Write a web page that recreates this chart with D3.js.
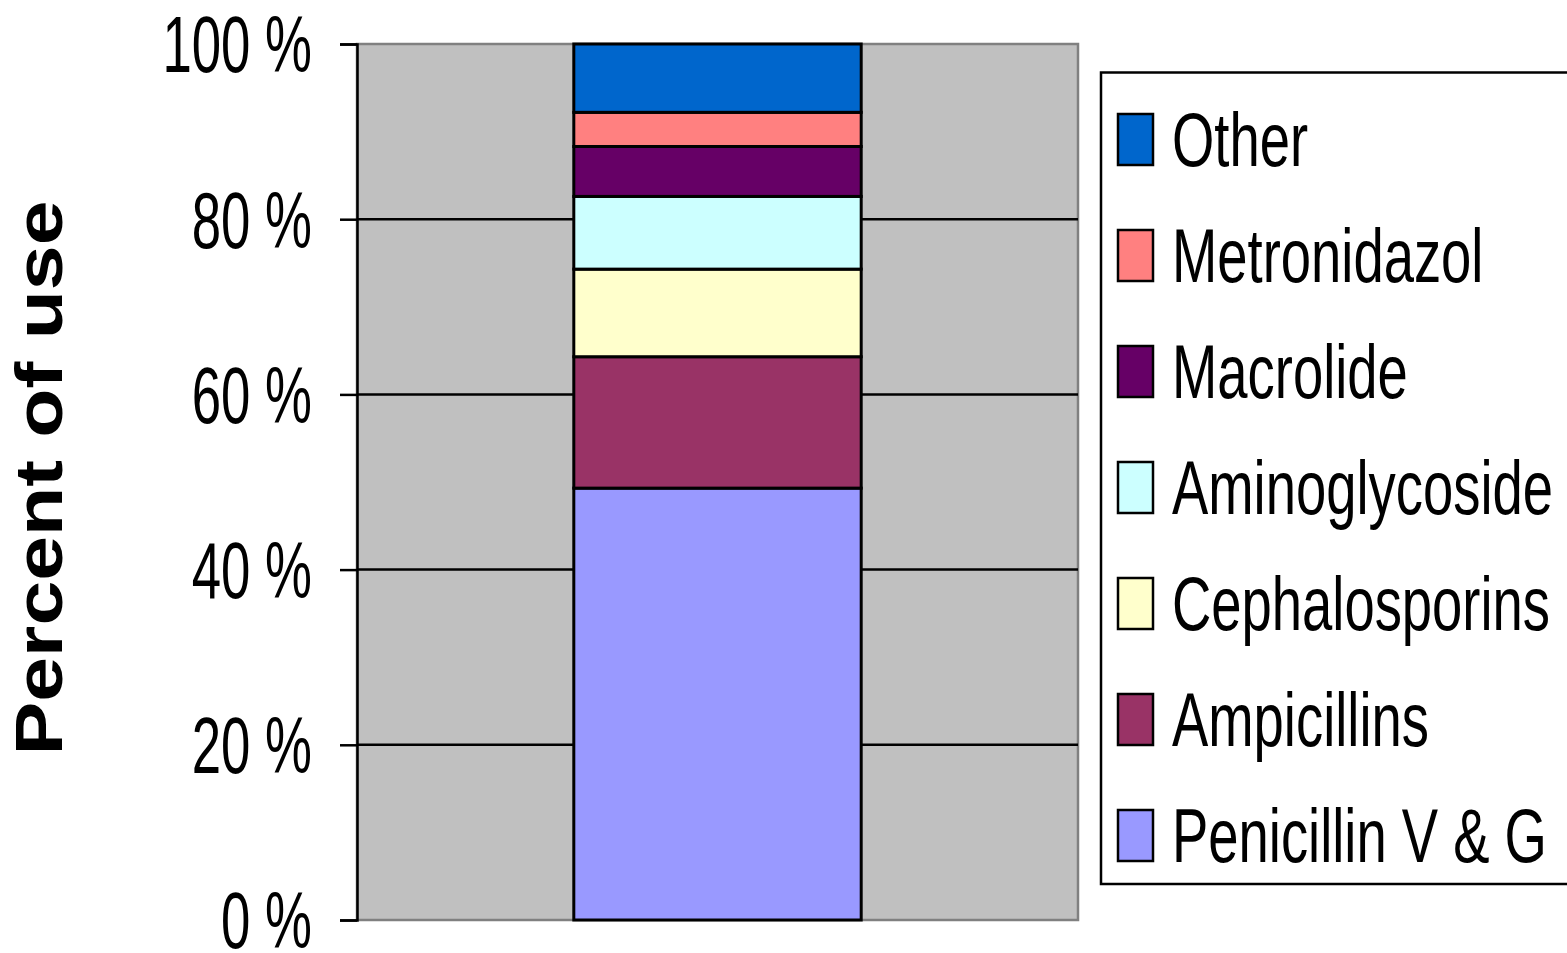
<!DOCTYPE html>
<html><head><meta charset="utf-8">
<script src="https://cdn.jsdelivr.net/npm/d3@7"></script>
<style>html,body{margin:0;padding:0;background:#fff;overflow:hidden;} svg{display:block;}</style>
</head><body>
<svg id="chart" width="1567" height="953"></svg>
<script>
// Share of antibiotic use by class (stacked to 100 %)
const categories = ["All"];
const seriesNames = ["Penicillin V & G", "Ampicillins", "Cephalosporins", "Aminoglycoside", "Macrolide", "Metronidazol", "Other"];
const seriesValues = [49.3, 15.0, 10.0, 8.3, 5.7, 3.9, 7.8];
const seriesColors = ["#9999ff", "#993366", "#ffffcc", "#ccffff", "#660066", "#ff8080", "#0066cc"];
const tickValues = [0, 20, 40, 60, 80, 100];
const tickLabels = ["0 %", "20 %", "40 %", "60 %", "80 %", "100 %"];
const yTitle = "Percent of use";

const svg = d3.select("#chart");
const plot = { left: 357, right: 1078, top: 44, bottom: 920 };
const FONT = "'Liberation Sans', Arial, Helvetica, sans-serif";

const row = { category: categories[0] };
seriesNames.forEach((k, i) => row[k] = seriesValues[i]);
const stacked = d3.stack().keys(seriesNames)([row]);

const x = d3.scaleBand().domain(categories).range([plot.left, plot.right]).padding(0.43);
const y = d3.scaleLinear().domain([0, 100]).range([plot.bottom, plot.top]);
const color = d3.scaleOrdinal().domain(seriesNames).range(seriesColors);

// plot background with grey frame
svg.append("rect")
  .attr("x", plot.left).attr("y", plot.top)
  .attr("width", plot.right - plot.left).attr("height", plot.bottom - plot.top)
  .attr("fill", "#c0c0c0").attr("stroke", "#808080").attr("stroke-width", 2.5);

// horizontal gridlines
svg.append("g").selectAll("line")
  .data(tickValues.filter(v => v > 0 && v < 100))
  .join("line")
  .attr("x1", plot.left).attr("x2", plot.right)
  .attr("y1", d => y(d)).attr("y2", d => y(d))
  .attr("stroke", "#000").attr("stroke-width", 2.5);

// stacked bar segments
svg.append("g").selectAll("rect")
  .data(stacked)
  .join("rect")
  .attr("x", x(categories[0]))
  .attr("width", x.bandwidth())
  .attr("y", d => y(d[0][1]))
  .attr("height", d => y(d[0][0]) - y(d[0][1]))
  .attr("fill", d => color(d.key))
  .attr("stroke", "#000").attr("stroke-width", 3);

// y axis
const yAxis = d3.axisLeft(y).tickValues(tickValues).tickSize(17).tickFormat("");
const axisG = svg.append("g").attr("transform", `translate(${plot.left},0)`).call(yAxis);
axisG.select(".domain").attr("stroke", "#000").attr("stroke-width", 2.5);
axisG.selectAll(".tick line").attr("stroke", "#000").attr("stroke-width", 2.5);

// condensed tick labels
svg.append("g").selectAll("g")
  .data(tickValues)
  .join("g")
  .attr("transform", d => `translate(312,${y(d)}) scale(0.668,1)`)
  .append("text")
  .attr("text-anchor", "end")
  .attr("dy", "0.36em")
  .attr("font-family", FONT)
  .attr("font-size", 79)
  .attr("fill", "#000")
  .text((d, i) => tickLabels[i]);

// axis title
const titleG = svg.append("g").attr("transform", `translate(62,478) rotate(-90)`);
const title = titleG.append("text")
  .attr("text-anchor", "middle")
  .attr("font-family", FONT)
  .attr("font-weight", "bold")
  .attr("font-size", 66)
  .attr("fill", "#000")
  .text(yTitle);
const natural = title.node().getComputedTextLength();
title.attr("transform", `scale(${555 / natural},1)`);

// legend
const legend = svg.append("g");
legend.append("rect")
  .attr("x", 1101).attr("y", 72.5)
  .attr("width", 600).attr("height", 811.5)
  .attr("fill", "#fff").attr("stroke", "#000").attr("stroke-width", 2.5);

const legendOrder = seriesNames.slice().reverse();
const item = legend.selectAll("g.item")
  .data(legendOrder)
  .join("g").attr("class", "item")
  .attr("transform", (d, i) => `translate(0,${166 + i * 116})`);
item.append("rect")
  .attr("x", 1118).attr("y", -52)
  .attr("width", 35).attr("height", 51)
  .attr("fill", d => color(d))
  .attr("stroke", "#000").attr("stroke-width", 2.5);
item.append("g")
  .attr("transform", "translate(1172,0) scale(0.716,1)")
  .append("text")
  .attr("font-family", FONT)
  .attr("font-size", 76)
  .attr("fill", "#000")
  .text(d => d);
</script>
</body></html>
